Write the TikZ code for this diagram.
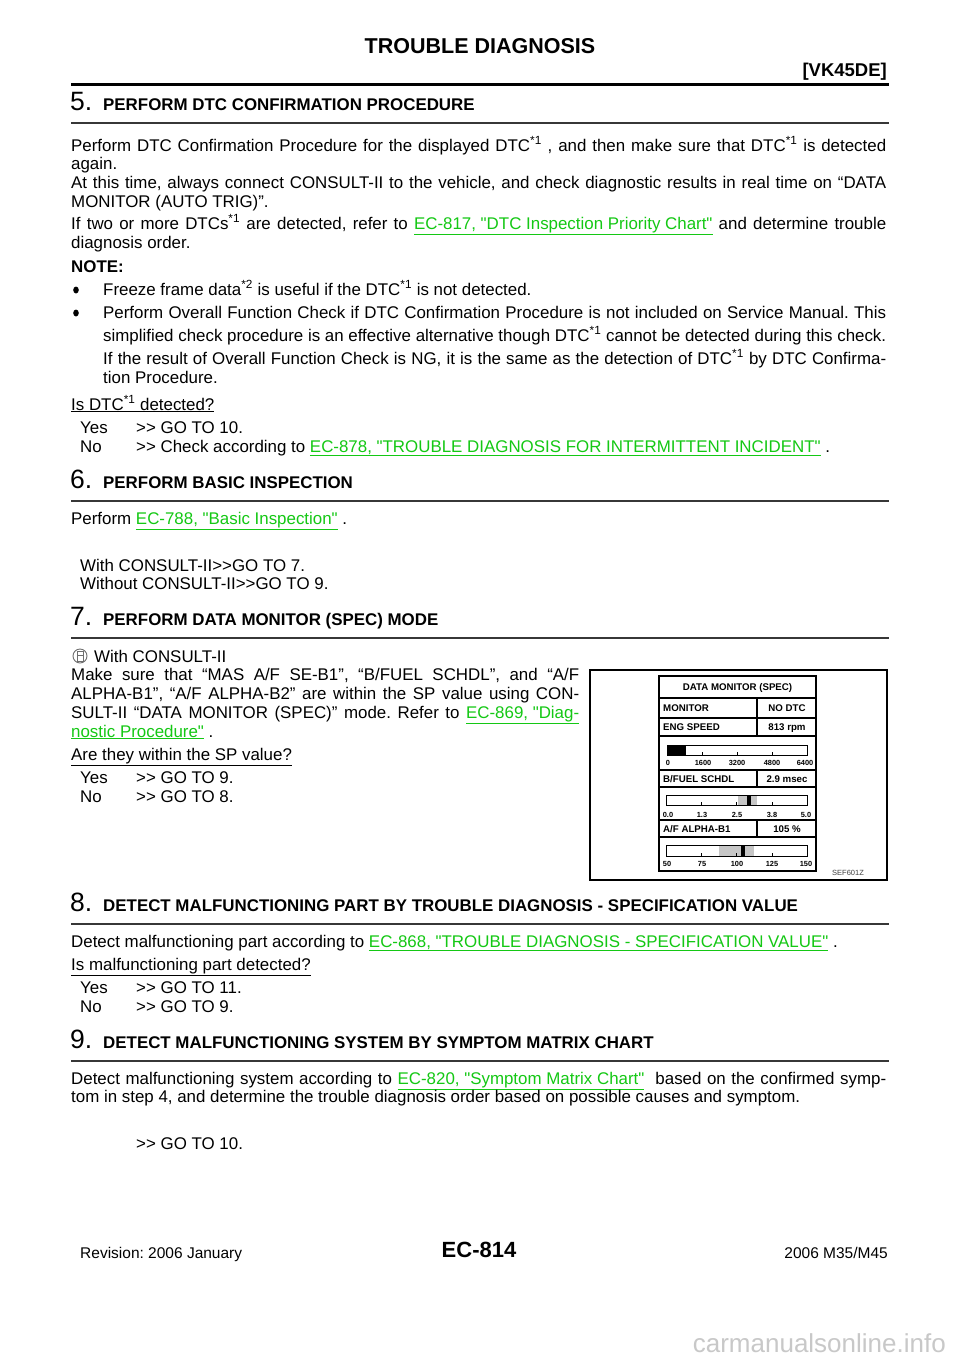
\documentclass[tikz,border=0pt]{standalone}
\usepackage{fontspec}
\newfontfamily\arial{Liberation Sans}
\definecolor{linkgreen}{RGB}{20,200,20}
\definecolor{rulegray}{RGB}{55,55,55}
\definecolor{wmgray}{RGB}{200,200,200}
\definecolor{iconGray}{RGB}{110,110,110}
\newcommand\bodyfont{\arial\fontsize{16.9}{19}\selectfont}
\newcommand\headfont{\arial\bfseries\fontsize{16.9}{19}\selectfont}
\newcommand\numfont{\arial\fontsize{26.5}{30}\selectfont}
\newcommand\lnk[1]{\textcolor{linkgreen}{\underline{#1}}}
\newcommand\sps[1]{\textsuperscript{#1}}
\newcommand\jst[2]{\makebox[#1pt][s]{#2}}
\frenchspacing
\begin{document}
\frenchspacing
\begin{tikzpicture}[x=1pt,y=-1pt,
  body/.style={anchor=base west,inner sep=0pt,font=\bodyfont},
  head/.style={anchor=base west,inner sep=0pt,font=\headfont},
  num/.style={anchor=base west,inner sep=0pt,font=\numfont},
  hrule/.style={line width=1.5pt,draw=rulegray},
  pan/.style={line width=1.3pt},
  pl/.style={anchor=base,inner sep=0pt,font=\arial\bfseries\fontsize{9.7}{11}\selectfont},
  tk/.style={anchor=base,inner sep=0pt,font=\arial\bfseries\fontsize{7.4}{9}\selectfont},
  barbox/.style={line width=0.8pt},
  shade/.style={fill=gray!45}]
\useasboundingbox (0,0) rectangle (960,1358);
\fill[white] (0,0) rectangle (960,1358);

% ---------- header
\node[anchor=base,inner sep=0pt,font=\arial\bfseries\fontsize{21.5}{24}\selectfont] (title) at (480,53) {TROUBLE DIAGNOSIS};
\node[anchor=base east,inner sep=0pt,font=\arial\bfseries\fontsize{18.5}{22}\selectfont] (engine) at (887,76) {[VK45DE]};
\draw[line width=3pt] (71,84.5) -- (889,84.5);

% ---------- section 5
\node[num] (n5) at (70,110) {5.};
\node[head] (h5) at (103,110) {PERFORM DTC CONFIRMATION PROCEDURE};
\draw[hrule] (71,123) -- (889,123);
\node[body] (t5a) at (71,151) {\jst{815}{Perform DTC Confirmation Procedure for the displayed DTC\sps{*1} , and then make sure that DTC\sps{*1}\ is detected}};
\node[body] (t5b) at (71,169) {again.};
\node[body] (t5c) at (71,188) {\jst{815}{At this time, always connect CONSULT-II to the vehicle, and check diagnostic results in real time on “DATA}};
\node[body] (t5d) at (71,207) {MONITOR (AUTO TRIG)”.};
\node[body] (t5e) at (71,229) {\jst{815}{If two or more DTCs\sps{*1}\ are detected, refer to \lnk{EC-817, "DTC Inspection Priority Chart"}\ and determine trouble}};
\node[body] (t5f) at (71,248) {diagnosis order.};
\node[body,font=\bodyfont\bfseries] (note) at (71,272) {NOTE:};
\fill (76,290) ellipse (2.8 and 3.5);
\node[body] (b1) at (103,295) {Freeze frame data\sps{*2}\ is useful if the DTC\sps{*1}\ is not detected.};
\fill (76,313) ellipse (2.8 and 3.5);
\node[body] (b2a) at (103,318) {\jst{783}{Perform Overall Function Check if DTC Confirmation Procedure is not included on Service Manual. This}};
\node[body] (b2b) at (103,341) {\jst{783}{simplified check procedure is an effective alternative though DTC\sps{*1}\ cannot be detected during this check.}};
\node[body] (b2c) at (103,364) {\jst{783}{If the result of Overall Function Check is NG, it is the same as the detection of DTC\sps{*1}\ by DTC Confirma-}};
\node[body] (b2d) at (103,383) {tion Procedure.};
\node[body] (q5) at (71,410) {\underline{Is DTC\sps{*1}\ detected?}};
\node[body] (y5) at (80,433) {Yes};
\node[body] (y5g) at (136,433) {>> GO TO 10.};
\node[body] (no5) at (80,452) {No};
\node[body] (no5g) at (136,452) {>> Check according to \lnk{EC-878, "TROUBLE DIAGNOSIS FOR INTERMITTENT INCIDENT"}\ .};

% ---------- section 6
\node[num] (n6) at (70,488) {6.};
\node[head] (h6) at (103,488) {PERFORM BASIC INSPECTION};
\draw[hrule] (71,501) -- (889,501);
\node[body] (t6a) at (71,524) {Perform \lnk{EC-788, "Basic Inspection"}\ .};
\node[body] (t6b) at (80,571) {With CONSULT-II>>GO TO 7.};
\node[body] (t6c) at (80,589) {Without CONSULT-II>>GO TO 9.};

% ---------- section 7
\node[num] (n7) at (70,625) {7.};
\node[head] (h7) at (103,625) {PERFORM DATA MONITOR (SPEC) MODE};
\draw[hrule] (71,638) -- (889,638);
\draw[iconGray,line width=0.9pt] (80,656) circle (7);
\draw[iconGray,line width=0.8pt] (77,651.5) rectangle (83,661);
\draw[iconGray,line width=0.8pt] (77,655.5) -- (83,655.5);
\node[body] (t7a) at (94,662) {With CONSULT-II};
\node[body] (t7b) at (71,680) {\jst{508}{Make sure that “MAS A/F SE-B1”, “B/FUEL SCHDL”, and “A/F}};
\node[body] (t7c) at (71,699) {\jst{508}{ALPHA-B1”, “A/F ALPHA-B2” are within the SP value using CON-}};
\node[body] (t7d) at (71,718) {\jst{508}{SULT-II “DATA MONITOR (SPEC)” mode. Refer to \lnk{EC-869, "Diag-}}};
\node[body] (t7e) at (71,737) {\lnk{nostic Procedure"}\ .};
\node[body] (q7) at (71,760) {\underline{Are they within the SP value?}};
\node[body] (y7) at (80,783) {Yes};
\node[body] (y7g) at (136,783) {>> GO TO 9.};
\node[body] (no7) at (80,802) {No};
\node[body] (no7g) at (136,802) {>> GO TO 8.};

% ---------- figure
\draw[pan] (590,670) rectangle (887,880);
\draw[pan] (659,676) rectangle (816,871);
\foreach \yy in {698,718,736,770,787,820,837} \draw[pan] (659,\yy) -- (816,\yy);
\draw[pan] (757,698) -- (757,736);
\draw[pan] (757,770) -- (757,787);
\draw[pan] (757,820) -- (757,837);
\node[pl] (dmt) at (737.5,690.5) {DATA MONITOR (SPEC)};
\node[pl,anchor=base west] (mon) at (663,711.5) {MONITOR};
\node[pl] (nodtc) at (787,711.5) {NO DTC};
\node[pl,anchor=base west] (eng) at (663,730.5) {ENG SPEED};
\node[pl] (rpm) at (787,730.5) {813 rpm};
\node[pl,anchor=base west] (bf) at (663,782) {B/FUEL SCHDL};
\node[pl] (msec) at (787,782) {2.9 msec};
\node[pl,anchor=base west] (af) at (663,832) {A/F ALPHA-B1};
\node[pl] (pct) at (787,832) {105 \%};
% bar 1
\fill (667,745) rectangle (686,755);
\draw[barbox] (667,745) rectangle (807,755);
\foreach \xx in {702,737,772} \draw[barbox] (\xx,752) -- (\xx,755);
\node[tk] (l1a) at (668,765.5) {0};
\node[tk] (l1b) at (703,765.5) {1600};
\node[tk] (l1c) at (737,765.5) {3200};
\node[tk] (l1d) at (772,765.5) {4800};
\node[tk] (l1e) at (805,765.5) {6400};
% bar 2
\fill[shade] (738,795) rectangle (757,805);
\fill (747,795) rectangle (751,805);
\draw[barbox] (666,795) rectangle (807,805);
\foreach \xx in {701,736,772} \draw[barbox] (\xx,802) -- (\xx,805);
\node[tk] (l2a) at (668,817) {0.0};
\node[tk] (l2b) at (702,817) {1.3};
\node[tk] (l2c) at (737,817) {2.5};
\node[tk] (l2d) at (772,817) {3.8};
\node[tk] (l2e) at (806,817) {5.0};
% bar 3
\fill[shade] (719,845) rectangle (754,856);
\fill (741,845) rectangle (745,856);
\draw[barbox] (666,845) rectangle (807,856);
\foreach \xx in {701,736,772} \draw[barbox] (\xx,853) -- (\xx,856);
\node[tk] (l3a) at (667,866) {50};
\node[tk] (l3b) at (702,866) {75};
\node[tk] (l3c) at (737,866) {100};
\node[tk] (l3d) at (772,866) {125};
\node[tk] (l3e) at (806,866) {150};
\node[anchor=base,inner sep=0pt,text=black!75,font=\arial\fontsize{7.5}{9}\selectfont] (sef) at (848,875.5) {SEF601Z};

% ---------- section 8
\node[num] (n8) at (70,911) {8.};
\node[head] (h8) at (103,911) {DETECT MALFUNCTIONING PART BY TROUBLE DIAGNOSIS - SPECIFICATION VALUE};
\draw[hrule] (71,924) -- (889,924);
\node[body] (t8a) at (71,947) {Detect malfunctioning part according to \lnk{EC-868, "TROUBLE DIAGNOSIS - SPECIFICATION VALUE"}\ .};
\node[body] (q8) at (71,970) {\underline{Is malfunctioning part detected?}};
\node[body] (y8) at (80,993) {Yes};
\node[body] (y8g) at (136,993) {>> GO TO 11.};
\node[body] (no8) at (80,1012) {No};
\node[body] (no8g) at (136,1012) {>> GO TO 9.};

% ---------- section 9
\node[num] (n9) at (70,1048) {9.};
\node[head] (h9) at (103,1048) {DETECT MALFUNCTIONING SYSTEM BY SYMPTOM MATRIX CHART};
\draw[hrule] (71,1061) -- (889,1061);
\node[body] (t9a) at (71,1084) {\jst{815}{Detect malfunctioning system according to \lnk{EC-820, "Symptom Matrix Chart"}\ \ based on the confirmed symp-}};
\node[body] (t9b) at (71,1102) {tom in step 4, and determine the trouble diagnosis order based on possible causes and symptom.};
\node[body] (t9c) at (136,1149) {>> GO TO 10.};

% ---------- footer
\node[anchor=base west,inner sep=0pt,font=\arial\fontsize{15.5}{18}\selectfont] (rev) at (80,1258.5) {Revision: 2006 January};
\node[anchor=base,inner sep=0pt,font=\arial\bfseries\fontsize{22}{26}\selectfont] (page) at (479,1257) {EC-814};
\node[anchor=base east,inner sep=0pt,font=\arial\fontsize{15.5}{18}\selectfont] (model) at (888,1258.5) {2006 M35/M45};
\node[anchor=base east,inner sep=0pt,text=wmgray,font=\arial\fontsize{26}{30}\selectfont] (wm) at (946,1352) {carmanualsonline.info};
\end{tikzpicture}
\end{document}
